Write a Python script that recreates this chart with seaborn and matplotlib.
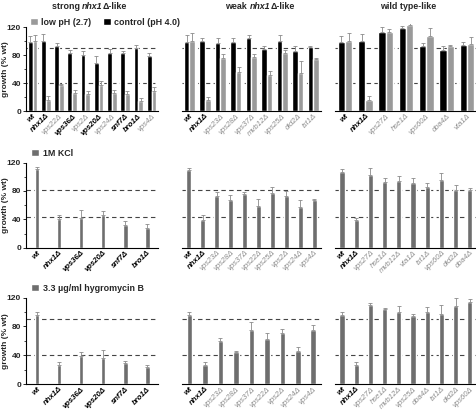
import numpy as np
import pandas as pd
import matplotlib
matplotlib.use('Agg')
import matplotlib.pyplot as plt
import seaborn as sns
from matplotlib.patches import Patch
from matplotlib.ticker import MultipleLocator

sns.set_style('white')
plt.rcParams['font.family'] = ['Liberation Sans', 'DejaVu Sans']
FS = 5.6

# ---- data ----
strong_strains = ['wt', 'nhx1Δ', 'vps22Δ', 'vps36Δ', 'vps2Δ', 'vps20Δ', 'vps24Δ', 'snf7Δ', 'bro1Δ', 'vps4Δ']
strong_ctrl = [99, 101, 94, 84, 81, 68.5, 84, 84, 90, 79]
strong_ctrl_err = [9, 10, 3, 3, 4.5, 11, 5, 2, 5, 5]
strong_low = [100, 16.5, 37, 26, 25, 38, 26, 24, 15, 29]
strong_low_err = [9, 5.5, 2, 4.5, 3.5, 5.5, 4, 5.5, 4.5, 6]

weak_strains = ['wt', 'nhx1Δ', 'vps23Δ', 'vps28Δ', 'vps37Δ', 'mvb12Δ', 'vps25Δ', 'did2Δ', 'ist1Δ']
weak_ctrl = [99, 100.7, 98, 99, 105, 89, 100, 85.5, 92]
weak_ctrl_err = [10, 4.5, 7, 6.5, 4, 4, 9, 8, 1.5]
weak_low = [100.7, 16.5, 76, 56.6, 77, 52, 84, 55, 74.5]
weak_low_err = [11, 4, 6, 7, 4.5, 5.5, 3, 17.5, 1.5]

wtl_strains = ['wt', 'nhx1Δ', 'vps27Δ', 'hse1Δ', 'vps60Δ', 'doa4Δ', 'vta1Δ']
wtl_ctrl = [99, 100, 114, 119.5, 94, 87, 95]
wtl_ctrl_err = [9, 10, 6, 3, 4, 7, 4.5]
wtl_low = [100, 16, 114, 123, 107.6, 93, 96.5]
wtl_low_err = [12, 5.5, 3.5, 6, 11, 2, 10.5]

kcl_strong_strains = ['wt', 'nhx1Δ', 'vps36Δ', 'vps20Δ', 'snf7Δ', 'bro1Δ']
kcl_strong = [110.5, 40.6, 42, 45.5, 31.6, 28]
kcl_strong_err = [3.5, 5, 11, 7, 6, 6]
kcl_weak_strains = ['wt', 'nhx1Δ', 'vps23Δ', 'vps28Δ', 'vps37Δ', 'vps22Δ', 'vps25Δ', 'vps2Δ', 'vps24Δ', 'vps4Δ']
kcl_weak = [109.6, 39.7, 73.5, 66.8, 75.3, 59.5, 76.7, 73, 57.3, 66.8]
kcl_weak_err = [3, 6, 4.5, 8, 3, 9, 9.5, 7.5, 10, 2]
kcl_wtl_strains = ['wt', 'nhx1Δ', 'vps27Δ', 'hse1Δ', 'mvb12Δ', 'vta1Δ', 'ist1Δ', 'vps60Δ', 'did2Δ', 'doa4Δ']
kcl_wtl = [107, 39, 102, 92.5, 94, 91, 85, 95, 81, 81.6]
kcl_wtl_err = [3.5, 3.5, 10, 6, 7, 7, 6, 10, 7.5, 3]

hyg_strong_strains = ['wt', 'nhx1Δ', 'vps36Δ', 'vps20Δ', 'snf7Δ', 'bro1Δ']
hyg_strong = [96, 26.8, 38.8, 36, 29.5, 24]
hyg_strong_err = [4.5, 4.5, 6, 12, 2, 2.5]
hyg_weak_strains = ['wt', 'nhx1Δ', 'vps23Δ', 'vps28Δ', 'vps37Δ', 'vps22Δ', 'vps2Δ', 'vps24Δ', 'vps4Δ']
hyg_weak = [96.4, 26.8, 59.4, 44.2, 74.5, 62, 71.4, 46, 75.4]
hyg_weak_err = [3.5, 4, 5, 2, 11.5, 8.5, 4.5, 6, 6]
hyg_wtl_strains = ['wt', 'nhx1Δ', 'vps27Δ', 'hse1Δ', 'mvb12Δ', 'vps25Δ', 'doa4Δ', 'ist1Δ', 'did2Δ', 'vps60Δ']
hyg_wtl = [96.4, 26.8, 109.6, 104, 100, 95, 100.4, 98, 109, 114]
hyg_wtl_err = [3.5, 4.5, 3.5, 2, 8.5, 2.5, 6.5, 12, 10.5, 4]

bold_strains = ['wt', 'nhx1Δ', 'vps36Δ', 'vps20Δ', 'snf7Δ', 'bro1Δ']
row_thresholds = [(90, 40), (81, 44), (90, 40)]

GREY_LOW = '#9a9a9a'
GREY_BAR = '#6e6e6e'
ERR_C = '#8a8a8a'

fig = plt.figure(figsize=(4.77, 4.13), dpi=100)

# axes positions [left, bottom, width, height] in figure fraction
cols = [(0.0545, 0.277), (0.381, 0.292), (0.702, 0.298)]
rows = [(0.731, 0.211), (0.400, 0.215), (0.070, 0.218)]


def style_axis(ax, strains, col, thr):
    ax.set_ylim(0, 125)
    ax.set_xlim(-0.5, len(strains) - 0.5)
    for t in thr:
        ax.axhline(t, color='#444444', lw=0.8, ls=(0, (4, 3)), zorder=0)
    ax.set_xlabel('')
    ax.set_ylabel('')
    sns.despine(ax=ax, top=True, right=True, left=(col != 0))
    ax.spines['bottom'].set_color('black')
    ax.spines['bottom'].set_linewidth(0.8)
    ax.set_xticks(range(len(strains)))
    ax.set_xticklabels(strains)
    ax.tick_params(axis='x', length=0, pad=1)
    for lab in ax.get_xticklabels():
        s = lab.get_text()
        lab.set_rotation(45)
        lab.set_ha('right')
        lab.set_rotation_mode('anchor')
        lab.set_fontsize(FS)
        lab.set_fontstyle('italic')
        if s in bold_strains:
            lab.set_fontweight('bold')
            lab.set_color('black')
        else:
            lab.set_color('#8c8c8c')
    if col == 0:
        ax.spines['left'].set_color('black')
        ax.spines['left'].set_linewidth(0.8)
        ax.spines['left'].set_bounds(0, 120)
        ax.set_yticks([0, 40, 80, 120])
        ax.yaxis.set_minor_locator(MultipleLocator(20))
        ax.tick_params(axis='y', which='major', length=2.5, width=0.7, pad=1,
                       left=True, labelsize=FS + 0.4)
        ax.tick_params(axis='y', which='minor', length=1.5, width=0.6, left=True)
        for lab in ax.get_yticklabels():
            lab.set_fontweight('bold')
        ax.set_ylabel('growth (% wt)', fontsize=FS + 0.4, fontweight='bold')
        ax.yaxis.set_label_coords(-0.125, 0.48)
    else:
        ax.set_yticks([])


# ---- row 1: paired bars ----
row1 = [(strong_strains, strong_ctrl, strong_ctrl_err, strong_low, strong_low_err),
        (weak_strains, weak_ctrl, weak_ctrl_err, weak_low, weak_low_err),
        (wtl_strains, wtl_ctrl, wtl_ctrl_err, wtl_low, wtl_low_err)]
for c, (strains, ctrl, ctrl_err, low, low_err) in enumerate(row1):
    ax = fig.add_axes([cols[c][0], rows[0][0], cols[c][1], rows[0][1]])
    df = pd.DataFrame({'strain': strains * 2,
                       'growth': ctrl + low,
                       'cond': ['control'] * len(strains) + ['low'] * len(strains)})
    sns.barplot(data=df, x='strain', y='growth', hue='cond', order=strains,
                hue_order=['control', 'low'], palette=['black', GREY_LOW],
                width=0.72, errorbar=None, legend=False, ax=ax, saturation=1)
    for cont, err in zip(ax.containers, [ctrl_err, low_err]):
        xs = [b.get_x() + b.get_width() / 2 for b in cont]
        ys = [b.get_height() for b in cont]
        ax.errorbar(xs, ys, yerr=[np.zeros(len(err)), err], fmt='none',
                    ecolor=ERR_C, elinewidth=0.6, capsize=1.2, capthick=0.6)
    style_axis(ax, strains, c, row_thresholds[0])
    if c == 0:
        ax.legend(handles=[Patch(facecolor=GREY_LOW, label='low pH (2.7)'),
                           Patch(facecolor='black', label='control (pH 4.0)')],
                  loc='lower left', bbox_to_anchor=(0.062, 0.935),
                  bbox_transform=fig.transFigure, ncol=2, frameon=False,
                  handlelength=0.9, handleheight=0.9, handletextpad=0.4,
                  columnspacing=1.3, borderpad=0, borderaxespad=0,
                  prop={'size': FS + 0.8, 'weight': 'bold'})

# ---- rows 2 and 3: single bars ----
single_rows = [
    [(kcl_strong_strains, kcl_strong, kcl_strong_err),
     (kcl_weak_strains, kcl_weak, kcl_weak_err),
     (kcl_wtl_strains, kcl_wtl, kcl_wtl_err)],
    [(hyg_strong_strains, hyg_strong, hyg_strong_err),
     (hyg_weak_strains, hyg_weak, hyg_weak_err),
     (hyg_wtl_strains, hyg_wtl, hyg_wtl_err)],
]
legend_labels = ['1M KCl', '3.3 µg/ml hygromycin B']
legend_y = [0.618, 0.291]
for r, panels in enumerate(single_rows, start=1):
    for c, (strains, vals, err) in enumerate(panels):
        ax = fig.add_axes([cols[c][0], rows[r][0], cols[c][1], rows[r][1]])
        df = pd.DataFrame({'strain': strains, 'growth': vals})
        w = 0.22 if c == 0 else 0.36
        sns.barplot(data=df, x='strain', y='growth', order=strains,
                    color=GREY_BAR, width=w, errorbar=None, ax=ax, saturation=1)
        cont = ax.containers[0]
        xs = [b.get_x() + b.get_width() / 2 for b in cont]
        ys = [b.get_height() for b in cont]
        ax.errorbar(xs, ys, yerr=[np.zeros(len(err)), err], fmt='none',
                    ecolor=ERR_C, elinewidth=0.6, capsize=1.2, capthick=0.6)
        style_axis(ax, strains, c, row_thresholds[r])
        if c == 0:
            ax.legend(handles=[Patch(facecolor=GREY_BAR, label=legend_labels[r - 1])],
                      loc='lower left', bbox_to_anchor=(0.066, legend_y[r - 1]),
                      bbox_transform=fig.transFigure, frameon=False,
                      handlelength=0.9, handleheight=0.9, handletextpad=0.4,
                      borderpad=0, borderaxespad=0,
                      prop={'size': FS + 0.8, 'weight': 'bold'})


# ---- column titles with italic gene name ----
def rich_title(xc, y, parts):
    texts = [fig.text(0, y, s, fontsize=FS + 0.8, fontweight='bold',
                      fontstyle='italic' if it else 'normal', va='baseline')
             for s, it in parts]
    fig.canvas.draw()
    rend = fig.canvas.get_renderer()
    widths = [t.get_window_extent(rend).width for t in texts]
    W = fig.bbox.width
    x = xc * W - sum(widths) / 2
    for t, wd in zip(texts, widths):
        t.set_x(x / W)
        x += wd


rich_title(0.187, 0.977, [('strong ', False), ('nhx1', True), ('Δ-like', False)])
rich_title(0.545, 0.977, [('weak ', False), ('nhx1', True), ('Δ-like', False)])
rich_title(0.856, 0.977, [('wild type-like', False)])

fig.savefig('out.png', dpi=100)
